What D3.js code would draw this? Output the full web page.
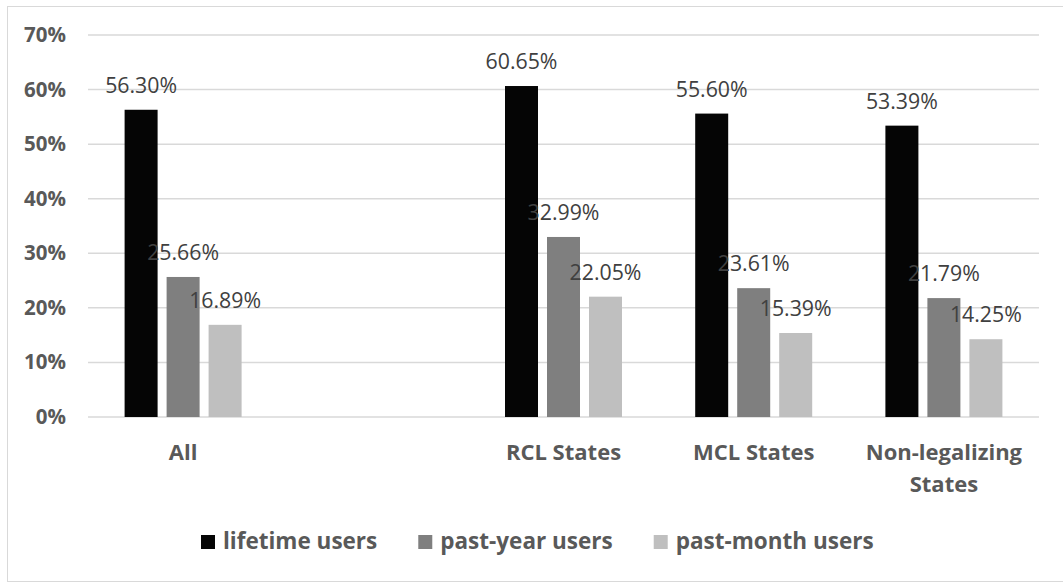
<!DOCTYPE html>
<html>
<head>
<meta charset="utf-8">
<script src="https://cdn.jsdelivr.net/npm/d3@7"></script>
<style>
  html, body { margin: 0; padding: 0; background: #fff; }
  svg { display: block; font-family: "Open Sans", "Liberation Sans", sans-serif; }
</style>
</head>
<body>
<svg id="chart" width="1063" height="583"></svg>
<script>
// Share of respondents by legalization status of their state
const categories = ["All", "", "RCL States", "MCL States", "Non-legalizing States"];
const categoryLines = [["All"], [], ["RCL States"], ["MCL States"], ["Non-legalizing", "States"]];
const seriesNames = ["lifetime users", "past-year users", "past-month users"];
const seriesColors = ["#050505", "#7f7f7f", "#bfbfbf"];
const lifetime  = [0.5630, null, 0.6065, 0.5560, 0.5339];
const pastYear  = [0.2566, null, 0.3299, 0.2361, 0.2179];
const pastMonth = [0.1689, null, 0.2205, 0.1539, 0.1425];
const yTicks = [0, 0.1, 0.2, 0.3, 0.4, 0.5, 0.6, 0.7];

const seriesValues = [lifetime, pastYear, pastMonth];

const svg = d3.select("#chart");
const plot = { left: 88, right: 1039, top: 35, bottom: 417 };

// chart frame (right edge runs past the visible area)
svg.append("rect")
  .attr("x", 7.5).attr("y", 6.5)
  .attr("width", 1080).attr("height", 575)
  .attr("fill", "#fff").attr("stroke", "#d9d9d9").attr("stroke-width", 1);

const x = d3.scaleBand().domain(categories).range([plot.left, plot.right]).padding(0);
const groupWidth = 117;
const x1 = d3.scaleBand().domain(seriesNames)
  .range([(x.bandwidth() - groupWidth) / 2, (x.bandwidth() + groupWidth) / 2])
  .paddingInner(9 / 42).paddingOuter(0);
const y = d3.scaleLinear().domain([0, 0.7]).range([plot.bottom, plot.top]);

// gridlines
svg.append("g")
  .selectAll("line").data(yTicks).join("line")
  .attr("x1", plot.left).attr("x2", plot.right)
  .attr("y1", d => y(d)).attr("y2", d => y(d))
  .attr("stroke", "#d9d9d9").attr("stroke-width", 1.5);

// y axis labels
const yAxis = d3.axisLeft(y).tickValues(yTicks).tickFormat(d3.format(".0%")).tickSize(0).tickPadding(22);
const gy = svg.append("g").attr("transform", `translate(${plot.left},0)`).call(yAxis);
gy.select(".domain").remove();
gy.selectAll("text")
  .attr("fill", "#595959").attr("font-size", 20.5).attr("font-weight", 700)
  .attr("font-family", "'Open Sans', sans-serif");

// bars
const rows = categories.map((c, i) => ({ c, vals: seriesValues.map((s, k) => ({ k, name: seriesNames[k], v: s[i] })) }));
const groups = svg.append("g").selectAll("g").data(rows).join("g")
  .attr("transform", d => `translate(${x(d.c)},0)`);

const barData = d => d.vals.filter(e => e.v != null);
groups.selectAll("rect").data(barData).join("rect")
  .attr("x", e => x1(e.name))
  .attr("width", x1.bandwidth())
  .attr("y", e => y(e.v))
  .attr("height", e => y(0) - y(e.v))
  .attr("fill", e => seriesColors[e.k]);

// value labels
groups.selectAll("text.val").data(barData).join("text")
  .attr("class", "val")
  .attr("x", e => x1(e.name) + x1.bandwidth() / 2)
  .attr("y", e => y(e.v) - 17)
  .attr("text-anchor", "middle")
  .attr("font-size", 21.3)
  .attr("fill", "#404040")
  .text(e => d3.format(".2%")(e.v));

// category labels
const gx = svg.append("g");
categories.forEach((c, i) => {
  const t = gx.append("text")
    .attr("x", x(c) + x.bandwidth() / 2)
    .attr("y", 460)
    .attr("text-anchor", "middle")
    .attr("font-size", 22).attr("font-weight", 700)
    .attr("fill", "#595959");
  categoryLines[i].forEach((line, j) => {
    t.append("tspan").attr("x", x(c) + x.bandwidth() / 2).attr("dy", j === 0 ? 0 : 32).text(line);
  });
});

// legend
const legend = svg.append("g");
const items = legend.selectAll("g").data(seriesNames).join("g");
items.append("rect").attr("width", 14).attr("height", 14).attr("y", -14)
  .attr("fill", (d, i) => seriesColors[i]);
items.append("text").attr("x", 22).attr("y", 0)
  .attr("font-size", 22.5).attr("font-weight", 700).attr("fill", "#595959")
  .text(d => d);
let cx = 0;
const offsets = [];
items.each(function () {
  offsets.push(cx);
  const w = 22 + this.querySelector("text").getComputedTextLength();
  cx += w + 41;
});
const startX = 201;
items.attr("transform", (d, i) => `translate(${startX + offsets[i]},549)`);
</script>
</body>
</html>
